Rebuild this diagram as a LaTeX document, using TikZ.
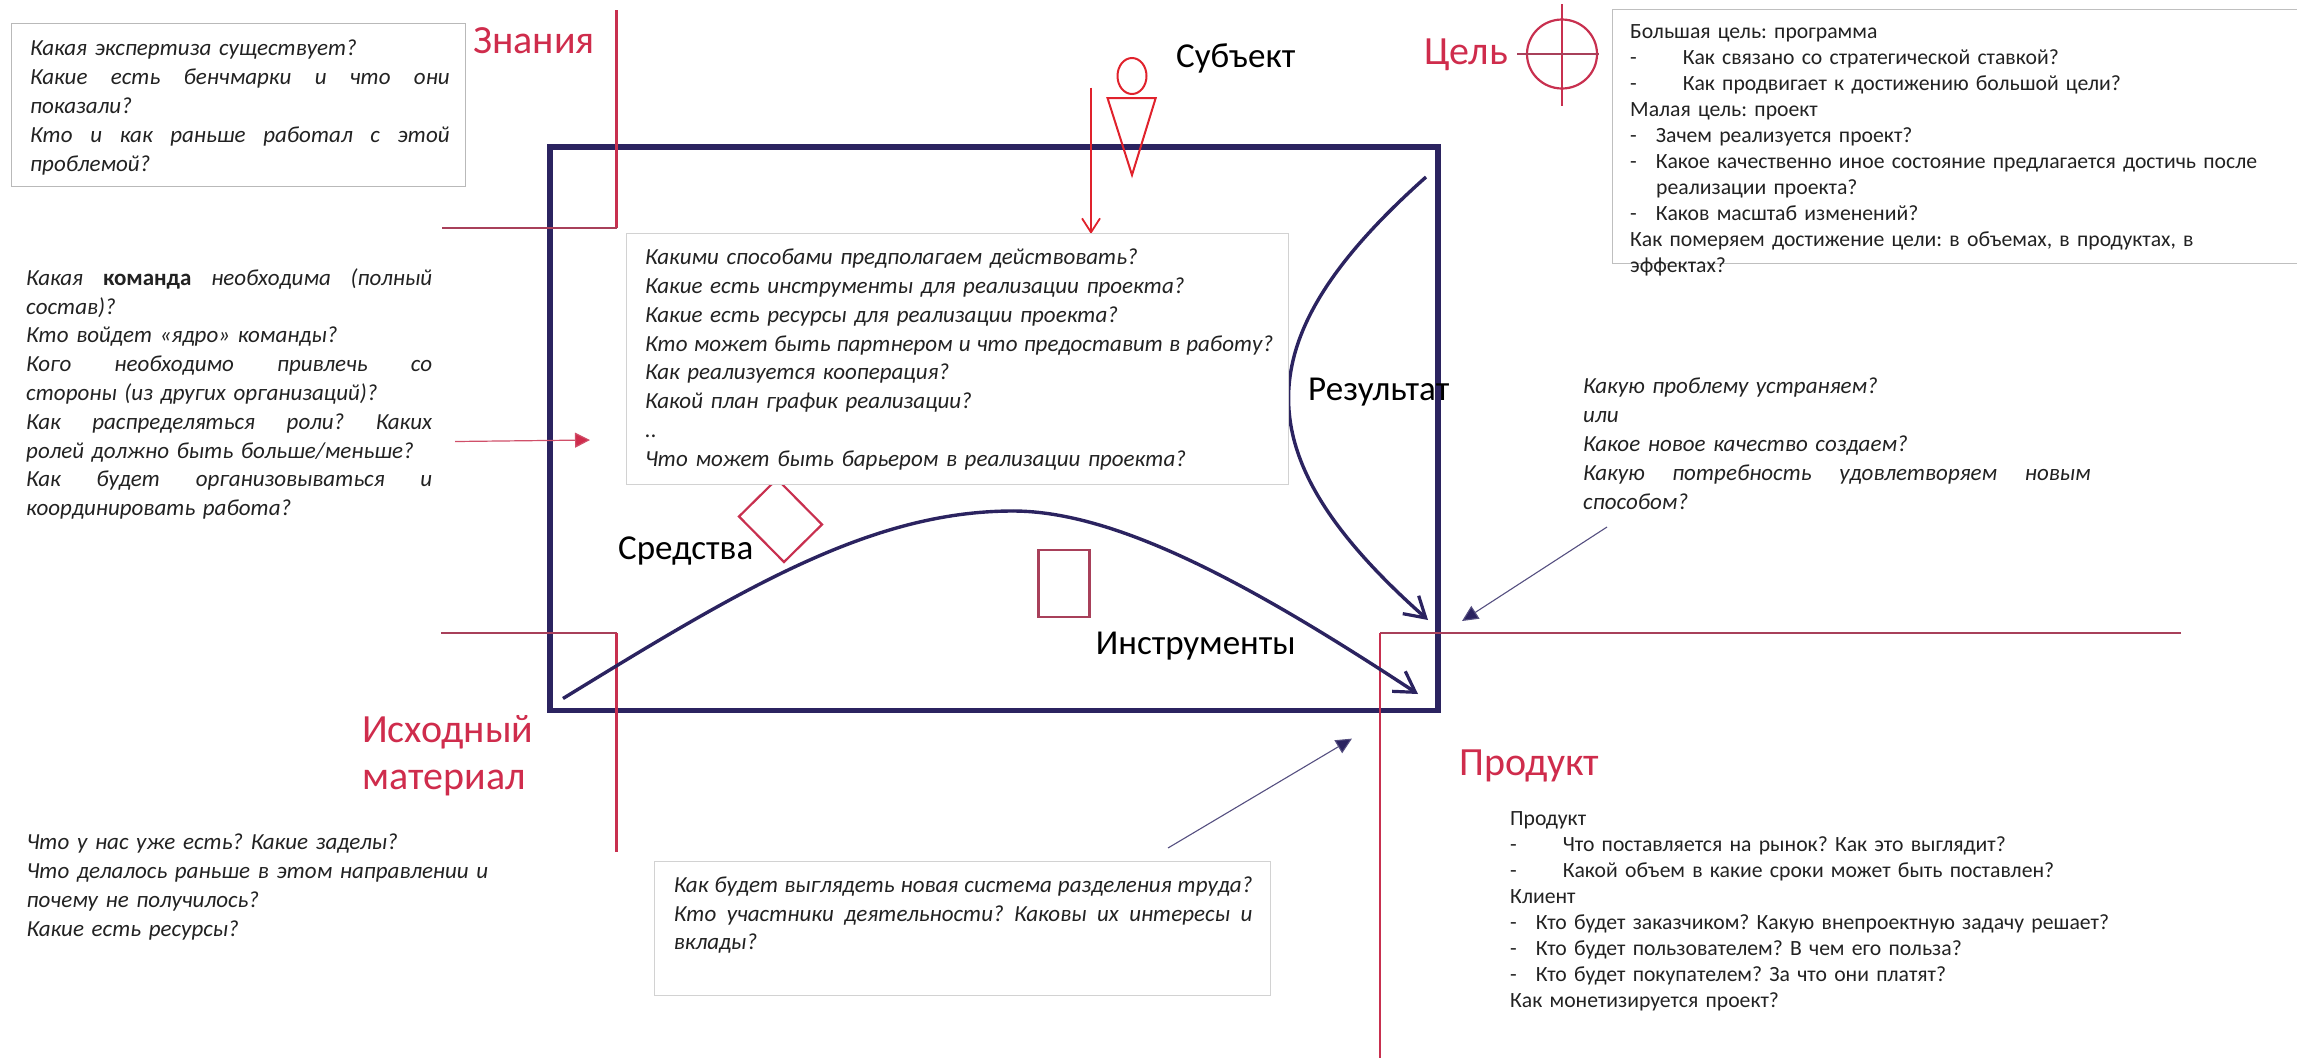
\documentclass[tikz,border=0pt]{standalone}
\usepackage{fontspec}
\usetikzlibrary{arrows.meta,shapes.geometric}
\setmainfont{Carlito}
\definecolor{crim}{HTML}{CF2C4C}
\definecolor{crimline}{HTML}{C8304F}
\definecolor{crimdim}{HTML}{A8405A}
\definecolor{navy}{HTML}{2B2360}
\definecolor{pred}{HTML}{E0222C}
\definecolor{ink}{HTML}{222222}
\newcommand{\J}[2]{\leavevmode\hbox to #1{\spaceskip=.2em plus 1fil\relax #2}}
\tikzset{
  x=1pt,y=-1pt,
  qtext/.style={anchor=north west,inner sep=0pt,align=left,text=ink,font=\fontsize{23}{28.8}\selectfont\itshape\frenchspacing,execute at begin node={\rule{0pt}{20pt}}},
  ptext/.style={anchor=north west,inner sep=0pt,align=left,text=ink,font=\fontsize{21.7}{26}\selectfont\frenchspacing,execute at begin node={\rule{0pt}{20pt}}},
  hbox/.style={anchor=north west,inner sep=0pt,draw=#1,line width=1pt,fill=white},
  redlab/.style={anchor=base west,inner sep=0pt,text=crim,font=\fontsize{40}{47}\selectfont},
  blacklab/.style={anchor=base west,inner sep=0pt,text=black,font=\fontsize{35}{40}\selectfont},
  redline/.style={draw=crimline,line width=2.2pt},
  dimline/.style={draw=crimdim,line width=2.4pt},
  flow/.style={draw=navy,line width=3.4pt,-{Straight Barb[length=20pt,width=24pt,line width=3.2pt]}},
  thinnavy/.style={draw=navy!80,line width=1.1pt,-{Triangle[length=16pt,width=15pt,fill=navy]}},
}
\begin{document}
\begin{tikzpicture}
\useasboundingbox (0,0) rectangle (2297,1058);
% main frame
\node[anchor=north west,inner sep=0pt,draw=navy,line width=5.5pt,minimum width=888pt,minimum height=563.5pt] (frame) at (547.3,144.3) {};
% knowledge corner
\coordinate (zA) at (616.5,10); \coordinate (zB) at (616.5,228); \coordinate (zC) at (441.5,228);
\draw[redline] (zA) -- (zB); \draw[dimline] (zB) -- (zC);
% source corner
\coordinate (iA) at (441,633); \coordinate (iB) at (616.5,633); \coordinate (iC) at (616.5,852);
\draw[dimline] (iA) -- (iB); \draw[redline] (iB) -- (iC);
% product corner
\coordinate (pA) at (2181,633); \coordinate (pB) at (1380,633); \coordinate (pC) at (1380,1058);
\draw[dimline] (pA) -- (pB); \draw[redline] (pB) -- (pC);
% curves
\coordinate (rS) at (1426,177); \coordinate (rE) at (1428,620);
\draw[flow] (rS) .. controls (1243,340) and (1243,456) .. (rE);
\coordinate (cS) at (563,698.5); \coordinate (cP) at (1013,511); \coordinate (cE) at (1418,694);
\draw[draw=navy,line width=3.4pt] (cS) .. controls (740,590) and (870,511) .. (cP);
\draw[flow] (cP) .. controls (1120,511) and (1260,590) .. (cE);
% means diamond and tools rectangle
\coordinate (dT) at (777,479); \coordinate (dR) at (822,524.5); \coordinate (dB) at (784,562); \coordinate (dL) at (739,516.5);
\draw[redline,line join=miter] (dT) -- (dR) -- (dB) -- (dL) -- cycle;
\node[anchor=north west,inner sep=0pt,draw=crimdim,line width=2.4pt,minimum width=51pt,minimum height=67pt] (toolrect) at (1037.3,548.8) {};
% subject
\node[draw=pred,line width=2pt,ellipse,inner sep=0pt,minimum width=29pt,minimum height=36pt] (head) at (1132,76) {};
\coordinate (tA) at (1107.5,98); \coordinate (tB) at (1155.7,98); \coordinate (tC) at (1132,175);
\draw[draw=pred,line width=2pt] (tA) -- (tB) -- (tC) -- cycle;
\coordinate (sA) at (1091,87.5); \coordinate (sB) at (1091,234);
\draw[draw=pred,line width=1.6pt,-{Straight Barb[length=14pt,width=18pt,line width=1.8pt]}] (sA) -- (sB);
% target
\node[draw=crimline,line width=2.2pt,ellipse,inner sep=0pt,minimum width=70pt,minimum height=69pt] (goal) at (1562,54) {};
\coordinate (gT) at (1562,4); \coordinate (gB) at (1562,106); \coordinate (gL) at (1517,54); \coordinate (gR) at (1599,54);
\draw[redline] (gT) -- (gB); \draw[dimline] (gL) -- (gR);
% boxes
\node[hbox=gray!55,minimum width=454pt,minimum height=163.5pt] (boxK) at (11.1,22.9) {};
\node[hbox=gray!35,minimum width=662pt,minimum height=251pt] (boxM) at (625.5,233) {};
\node[hbox=gray!35,minimum width=616.6pt,minimum height=134.6pt] (boxB) at (653.5,860.5) {};
\node[hbox=gray!50,minimum width=720pt,minimum height=254pt] (boxG) at (1611.5,9.1) {};
% thin arrows
\coordinate (aA) at (455,441.5); \coordinate (aB) at (590,440);
\draw[draw=crimline!85,line width=1.2pt,-{Triangle[length=15pt,width=15pt,fill=crim]}] (aA) -- (aB);
\coordinate (bA) at (1168,848); \coordinate (bB) at (1352,738.6);
\draw[thinnavy] (bA) -- (bB);
\coordinate (cA) at (1607,527); \coordinate (cB) at (1462,621);
\draw[thinnavy] (cA) -- (cB);
% question texts
\node[qtext,text width=430pt] (tK) at (30,35.6) {Какая экспертиза существует?\\
\J{419.5pt}{Какие есть бенчмарки и что они}\\
показали?\\
\J{419.5pt}{Кто и как раньше работал с этой}\\
проблемой?};
\node[qtext,text width=420pt] (tT) at (26,265) {\J{406pt}{Какая \textbf{\upshape команда} необходима (полный}\\
состав)?\\
Кто войдет «ядро» команды?\\
\J{406pt}{Кого необходимо привлечь со}\\
стороны (из других организаций)?\\
\J{406pt}{Как распределяться роли? Каких}\\
ролей должно быть больше/меньше?\\
\J{406pt}{Как будет организовываться и}\\
координировать работа?};
\node[qtext,text width=640pt] (tM) at (645,244.5) {Какими способами предполагаем действовать?\\
Какие есть инструменты для реализации проекта?\\
Какие есть ресурсы для реализации проекта?\\
\J{628pt}{Кто может быть партнером и что предоставит в работу?}\\
Как реализуется кооперация?\\
Какой план график реализации?\\
..\\
Что может быть барьером в реализации проекта?};
\node[qtext,text width=500pt] (tS) at (26.5,829.4) {Что у нас уже есть? Какие заделы?\\
Что делалось раньше в этом направлении и\\
почему не получилось?\\
Какие есть ресурсы?};
\node[qtext,text width=590pt] (tB) at (673.7,872) {\J{578.5pt}{Как будет выглядеть новая система разделения труда?}\\
\J{578.5pt}{Кто участники деятельности? Каковы их интересы и}\\
вклады?};
\node[qtext,text width=520pt] (tR) at (1583,373.6) {Какую проблему устраняем?\\
или\\
Какое новое качество создаем?\\
\J{507.5pt}{Какую потребность удовлетворяем новым}\\
способом?};
% plain texts
\node[ptext,text width=680pt] (tG) at (1630,18) {Большая цель: программа\\
-\hspace{46pt}Как связано со стратегической ставкой?\\
-\hspace{46pt}Как продвигает к достижению большой цели?\\
Малая цель: проект\\
-\hspace{19pt}Зачем реализуется проект?\\
-\hspace{19pt}Какое качественно иное состояние предлагается достичь после\\
\hspace{26pt}реализации проекта?\\
-\hspace{19pt}Каков масштаб изменений?\\
Как померяем достижение цели: в объемах, в продуктах, в\\
эффектах?};
\node[ptext,text width=680pt] (tP) at (1510,805) {Продукт\\
-\hspace{46pt}Что поставляется на рынок? Как это выглядит?\\
-\hspace{46pt}Какой объем в какие сроки может быть поставлен?\\
Клиент\\
-\hspace{19pt}Кто будет заказчиком? Какую внепроектную задачу решает?\\
-\hspace{19pt}Кто будет пользователем? В чем его польза?\\
-\hspace{19pt}Кто будет покупателем? За что они платят?\\
Как монетизируется проект?};
% labels
\node[redlab] (lK) at (473,53.5) {Знания};
\node[redlab] (lG) at (1424,64.5) {Цель};
\node[redlab,align=left,anchor=north west] (lI) at (362,715) {Исходный\\материал};
\node[redlab] (lP) at (1459,775) {Продукт};
\node[blacklab] (lS) at (1176,67.5) {Субъект};
\node[blacklab] (lR) at (1308,400.5) {Результат};
\node[blacklab] (lM) at (618,559) {Средства};
\node[blacklab] (lT) at (1095.6,654) {Инструменты};
\end{tikzpicture}
\end{document}
